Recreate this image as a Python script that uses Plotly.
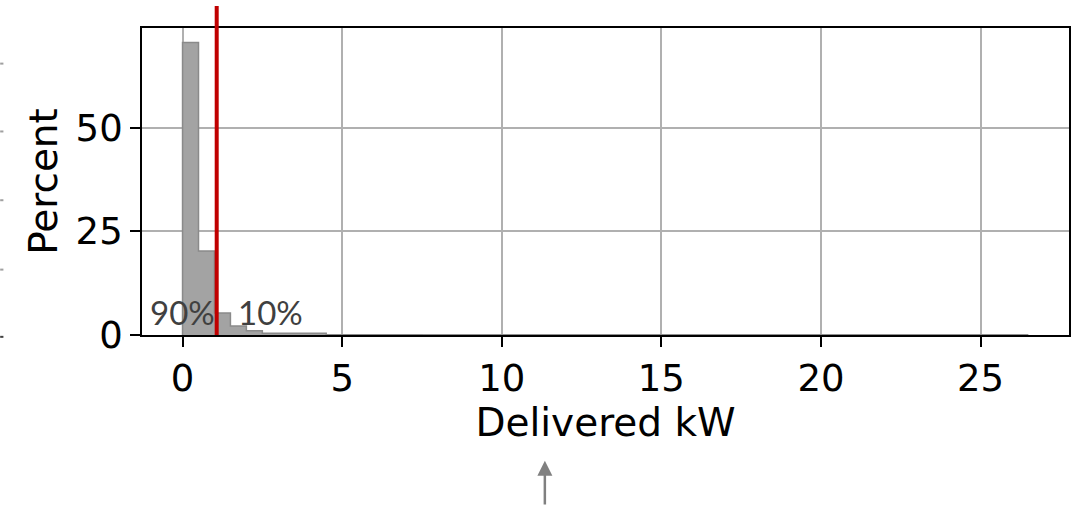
import plotly.graph_objects as go

# Histogram of delivered power, bins of 0.5 kW starting at 0
bin_width = 0.5
bin_starts = [0.0, 0.5, 1.0, 1.5, 2.0, 2.5, 3.0, 3.5, 4.0, 4.5, 5.0, 5.5, 6.0, 6.5,
              7.0, 7.5, 8.0, 8.5, 9.0, 9.5, 10.0, 10.5, 11.0, 11.5, 12.0, 12.5, 13.0,
              13.5, 14.0, 14.5, 15.0, 15.5, 16.0, 16.5, 17.0, 17.5, 18.0, 18.5, 19.0,
              19.5, 20.0, 20.5, 21.0, 21.5, 22.0, 22.5, 23.0, 23.5, 24.0, 24.5, 25.0,
              25.5, 26.0]
percent = [70.6, 20.3, 5.3, 2.2, 1.0, 0.4, 0.4, 0.4, 0.4, 0.06, 0.05, 0.05, 0.04, 0.04,
           0.04, 0.03, 0.03, 0.03, 0.03, 0.03, 0.02, 0.02, 0.02, 0.02, 0.02, 0.02, 0.02,
           0.02, 0.02, 0.02, 0.02, 0.02, 0.02, 0.02, 0.02, 0.02, 0.02, 0.02, 0.02,
           0.02, 0.02, 0.02, 0.02, 0.02, 0.02, 0.02, 0.02, 0.02, 0.02, 0.02, 0.02,
           0.02, 0.02]

p90_kw = 1.07          # 90th percentile of delivered kW
share_labels = ["90%", "10%"]
share_label_x = [0.0, 2.75]
share_label_y = 5.6

x_ticks = [0, 5, 10, 15, 20, 25]
y_ticks = [0, 25, 50]

centers = [s + bin_width / 2 for s in bin_starts]

fig = go.Figure()
# filled bins
fig.add_trace(go.Bar(
    x=centers, y=percent, width=bin_width,
    marker=dict(color="#a3a3a3", line=dict(width=0)),
    hoverinfo="x+y",
))
# step outline around the filled area
edges = bin_starts + [bin_starts[-1] + bin_width]
step_y = percent + [percent[-1]]
fig.add_trace(go.Scatter(
    x=[edges[0]] + edges, y=[0] + step_y,
    mode="lines", line=dict(shape="hv", color="#8a8a8a", width=1.5),
    hoverinfo="skip",
))
fig.add_trace(go.Scatter(
    x=[edges[-1], edges[-1]], y=[step_y[-1], 0],
    mode="lines", line=dict(color="#8a8a8a", width=1.5), hoverinfo="skip",
))

# 90th percentile marker
fig.add_shape(type="line", xref="x", yref="paper",
              x0=p90_kw, x1=p90_kw, y0=0, y1=1.072,
              line=dict(color="#c00000", width=4), layer="above")

for txt, xv in zip(share_labels, share_label_x):
    fig.add_annotation(x=xv, y=share_label_y, xref="x", yref="y", text=txt,
                       showarrow=False,
                       font=dict(family="Lato", size=33, color="#404040"))

# upward pointer below the axis title
fig.add_annotation(x=11.35, y=-0.41, xref="x", yref="paper", text="",
                   showarrow=True, arrowhead=2, arrowsize=1.2, arrowwidth=2.5,
                   arrowcolor="#808080", ax=0, ay=48)

# short dashes along the left edge
for yp, col in [(0.884, "#a0a0a0"), (0.663, "#a0a0a0"), (0.439, "#a0a0a0"),
                (0.213, "#a0a0a0"), (-0.006, "#404040")]:
    fig.add_shape(type="line", xref="paper", yref="paper",
                  x0=-0.153, x1=-0.1495, y0=yp, y1=yp,
                  line=dict(color=col, width=2))

tick_font = dict(family="DejaVu Sans", size=37, color="black")
title_font = dict(family="DejaVu Sans", size=39, color="black")

fig.update_layout(
    width=1083, height=506,
    margin=dict(l=142, r=12, t=28, b=171),
    paper_bgcolor="white", plot_bgcolor="white",
    showlegend=False, bargap=0,
    font=tick_font,
    xaxis=dict(
        range=[-1.27, 27.77], tickvals=x_ticks, ticktext=[str(v) for v in x_ticks],
        showgrid=True, gridcolor="#b0b0b0", gridwidth=1.5,
        showline=True, linecolor="black", linewidth=1.8, mirror=True,
        ticks="outside", ticklen=10, tickwidth=1.8, tickcolor="black",
        tickfont=tick_font, zeroline=False,
        title=dict(text="Delivered kW", font=title_font, standoff=1),
    ),
    yaxis=dict(
        range=[0, 74.1], tickvals=y_ticks, ticktext=[str(v) for v in y_ticks],
        showgrid=True, gridcolor="#b0b0b0", gridwidth=1.5,
        showline=True, linecolor="black", linewidth=1.8, mirror=True,
        ticks="outside", ticklen=10, tickwidth=1.8, tickcolor="black",
        tickfont=tick_font, zeroline=False,
        title=dict(text="Percent", font=title_font, standoff=6),
    ),
)

fig.write_html("out.html")
